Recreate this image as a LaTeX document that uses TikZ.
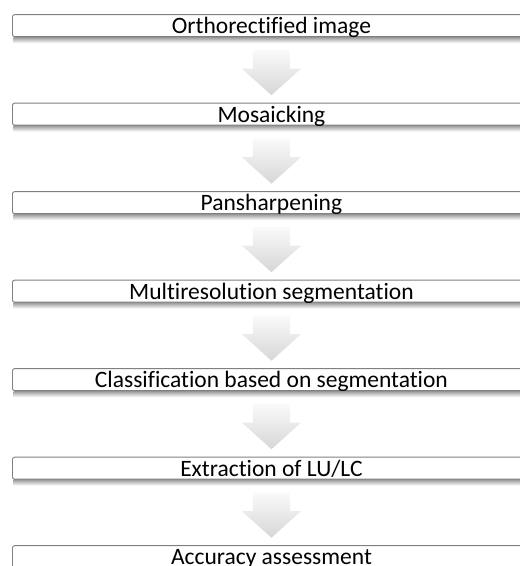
\documentclass[tikz,border=0pt]{standalone}
\usepackage{fontspec}
\setmainfont{Carlito}[Ligatures=NoCommon]
\usetikzlibrary{calc,backgrounds}
\newcommand\blockarrow[2]{%
  \shade[top color=gray!4, bottom color=gray!32]
    ($(#1.south)+(-18.5,13)$) -- ($(#1.south)+(18.5,13)$) --
    ($(#2.north)+(18.5,-34)$) -- ($(#2.north)+(29.5,-34)$) --
    ($(#2.north)+(0,-7.5)$) -- ($(#2.north)+(-29.5,-34)$) --
    ($(#2.north)+(-18.5,-34)$) -- cycle;}
\newcommand\boxshadow[1]{%
  \begin{pgfonlayer}{background}
  \shade[top color=black!40, bottom color=white]
    ($(#1.south west)+(1.5,0)$) rectangle ($(#1.south east)+(0,6)$);
  \end{pgfonlayer}}
\begin{document}
\begin{tikzpicture}[x=1pt,y=-1pt,
  stepbox/.style={draw=black!50, line width=0.9pt, fill=white,
    rounded corners=2.2pt, minimum width=518pt, minimum height=22pt,
    inner sep=0pt, anchor=north west, text height=16pt, text depth=0pt,
    font=\fontsize{23.5}{24}\selectfont}]
\useasboundingbox (0,0) rectangle (520,566);
\clip (0,0) rectangle (520,566);
\node[stepbox] (b1) at (12,14.2)  {Orthorectified image};
\node[stepbox] (b2) at (12,102.7) {Mosaicking};
\node[stepbox] (b3) at (12,191.2) {Pansharpening};
\node[stepbox] (b4) at (12,279.7) {Multiresolution segmentation};
\node[stepbox] (b5) at (12,368.2) {Classification based on segmentation};
\node[stepbox] (b6) at (12,456.7) {Extraction of LU/LC};
\node[stepbox] (b7) at (12,545.2) {Accuracy assessment};
\foreach \n in {b1,b2,b3,b4,b5,b6,b7} {\boxshadow{\n}}
\blockarrow{b1}{b2}
\blockarrow{b2}{b3}
\blockarrow{b3}{b4}
\blockarrow{b4}{b5}
\blockarrow{b5}{b6}
\blockarrow{b6}{b7}
\end{tikzpicture}
\end{document}
